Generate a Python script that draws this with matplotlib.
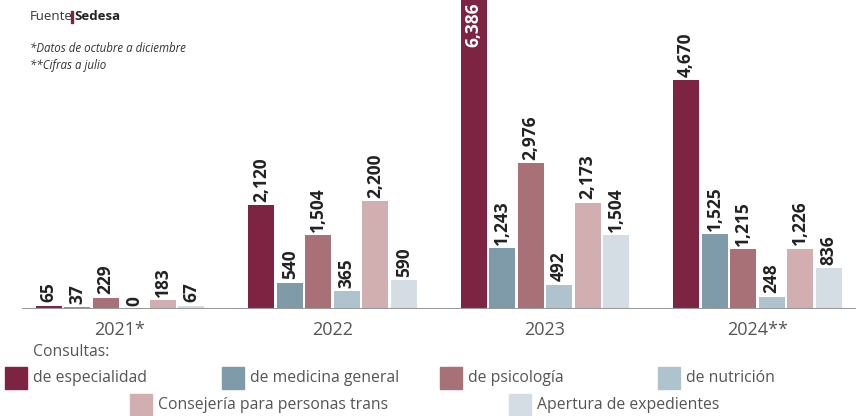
import numpy as np
import matplotlib.pyplot as plt
from matplotlib.patches import Rectangle

years = ['2021*', '2022', '2023', '2024**']
series = ['de especialidad', 'de medicina general', 'de psicología',
          'de nutrición', 'Consejería para personas trans', 'Apertura de expedientes']
especialidad = [65, 2120, 6386, 4670]
medicina = [37, 540, 1243, 1525]
psicologia = [229, 1504, 2976, 1215]
nutricion = [0, 365, 492, 248]
consejeria = [183, 2200, 2173, 1226]
apertura = [67, 590, 1504, 836]
values = [especialidad, medicina, psicologia, nutricion, consejeria, apertura]
colors = ['#7e2443', '#7f9aa9', '#a77177', '#aec3cd', '#d1aeb0', '#d4dde4']

plt.rcParams['font.family'] = ['Open Sans', 'DejaVu Sans']
W, H = 856, 416
fig = plt.figure(figsize=(W / 100, H / 100), dpi=100)
ax = fig.add_axes([22 / W, (H - 309) / H, 1 - 22 / W, 309 / H])

step = 28.5 / 212.5
width = 26 / 212.5
x = np.arange(len(years))
ymax = 309 / 0.049
for i, (vals, c) in enumerate(zip(values, colors)):
    xs = x + (i - 2.5) * step
    ax.bar(xs, vals, width, color=c, zorder=2)
    for xi, v in zip(xs, vals):
        lab = f'{v:,}'
        if v > ymax:
            ax.text(xi, ymax - 60, lab, rotation=90, ha='center', va='top',
                    color='white', fontsize=12.5, fontweight='bold')
        else:
            ax.text(xi, v + 70, lab, rotation=90, ha='center', va='bottom',
                    color='#222222', fontsize=12.5, fontweight='bold')

ax.set_xlim((22 - 120) / 212.5, (856 - 120) / 212.5)
ax.set_ylim(0, ymax)
ax.axis('off')
ax.axhline(0, color='#999999', lw=1.5, zorder=3, xmin=0, xmax=1)

for xi, yr in zip(x, years):
    ax.text(xi, -420, yr, ha='center', va='center', fontsize=13, color='#555555')

# source and notes
fig.text(30 / W, 1 - 17 / H, 'Fuente', fontsize=9.5, color='#333333', va='center')
fig.patches.append(Rectangle((71 / W, 1 - 23 / H), 1.8 / W, 12 / H,
                             transform=fig.transFigure, color='#7e2443', figure=fig))
fig.text(74 / W, 1 - 17 / H, 'Sedesa', fontsize=9.5, color='#222222', va='center', fontweight='bold')
fig.text(30 / W, 1 - 48 / H, '*Datos de octubre a diciembre', fontsize=8.3,
         style='italic', color='#333333', va='center')
fig.text(30 / W, 1 - 65 / H, '**Cifras a julio', fontsize=8.3,
         style='italic', color='#333333', va='center')

# legend
fig.text(33 / W, 1 - 352 / H, 'Consultas:', fontsize=11.3, color='#555555', va='center')
legend_pos = [(5, 378), (222, 378), (440, 378), (658, 378), (130, 405), (509, 405)]
for (px, py), lab, c in zip(legend_pos, series, colors):
    fig.patches.append(Rectangle((px / W, (H - py - 11) / H), 22 / W, 22 / H,
                                 transform=fig.transFigure, color=c, figure=fig))
    fig.text((px + 28) / W, 1 - py / H, lab, fontsize=11.3, color='#555555', va='center')

fig.savefig('out.png', dpi=100)
